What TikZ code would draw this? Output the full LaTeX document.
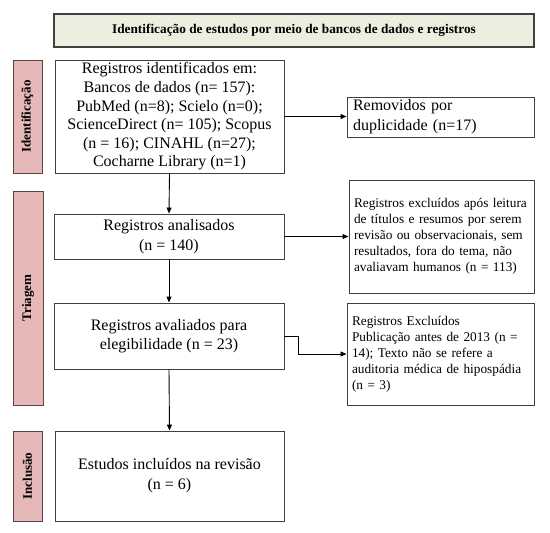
\documentclass[tikz,border=0pt]{standalone}
\usepackage{fontspec}
\setmainfont{Liberation Serif}
\usetikzlibrary{arrows.meta}
\definecolor{barpink}{HTML}{E6B8B7}
\definecolor{barline}{HTML}{5A4545}
\definecolor{titlefill}{HTML}{ECEFDF}
\definecolor{boxline}{HTML}{404040}
\tikzset{
  box/.style={draw=boxline, line width=0.9pt, fill=white, inner sep=0pt, align=center,
    font=\fontsize{16}{18.6}\selectfont},
  sidebox/.style={draw=boxline, line width=0.9pt, fill=white, inner xsep=5pt, inner ysep=0pt, align=left,
    font=\fontsize{13.3}{16}\selectfont},
  phase/.style={draw=barline, line width=0.9pt, fill=barpink, rotate=90, inner sep=0pt,
    font=\fontsize{13}{15}\selectfont\bfseries},
  titlebox/.style={draw=boxline, line width=1.8pt, fill=titlefill, inner sep=0pt,
    font=\fontsize{13.3}{16}\selectfont\bfseries},
  arr/.style={draw=black, line width=0.9pt, -{Triangle[length=6pt,width=5pt]}}
}
\begin{document}
\begin{tikzpicture}[x=1pt,y=-1pt]
\useasboundingbox (0,0) rectangle (550,533);
% title
\node[titlebox, minimum width=480pt, minimum height=33pt] (title) at (294,30.5)
  {Identificação de estudos por meio de bancos de dados e registros};
% phase bars
\node[phase, minimum width=113pt, minimum height=29pt] (pid) at (27.5,116.5) {Identificação};
\node[phase, minimum width=214pt, minimum height=30pt] (ptri) at (28,298) {Triagem};
\node[phase, minimum width=90pt, minimum height=29pt] (pinc) at (27.5,476) {Inclusão};
% main boxes
\node[box, minimum width=229pt, minimum height=113pt] (ident) at (169.5,116.5)
  {Registros identificados em:\\Bancos de dados (n= 157):\\PubMed (n=8); Scielo (n=0);\\ScienceDirect (n= 105); Scopus\\(n = 16); CINAHL (n=27);\\Cocharne Library (n=1)};
\node[box, minimum width=230pt, minimum height=45pt, font=\fontsize{16}{20}\selectfont] (anal) at (169,236.5)
  {Registros analisados\\(n = 140)};
\node[box, minimum width=230pt, minimum height=66pt, font=\fontsize{16}{19.5}\selectfont] (elig) at (169,336)
  {Registros avaliados para\\elegibilidade (n = 23)};
\node[box, minimum width=229pt, minimum height=90pt, font=\fontsize{16}{20}\selectfont] (incl) at (169.5,476)
  {Estudos incluídos na revisão\\(n = 6)};
% side boxes
\node[sidebox, minimum width=187pt, minimum height=40pt, inner xsep=6pt, text width=175pt,
  font=\fontsize{16}{20}\selectfont] (rem) at (440.5,117)
  {Removidos por\\duplicidade (n=17)};
\node[sidebox, minimum width=185pt, minimum height=113pt, text width=175pt] (ex1) at (441.5,236.5)
  {Registros excluídos após leitura\\de títulos e resumos por serem\\revisão ou observacionais, sem\\resultados, fora do tema, não\\avaliavam humanos (n = 113)};
\node[sidebox, minimum width=187pt, minimum height=102pt, text width=177pt] (ex2) at (440.5,354)
  {Registros Excluídos\\Publicação antes de 2013 (n =\\14); Texto não se refere a\\auditoria médica de hipospádia\\(n = 3)};
% connectors
\draw[arr] (ident.south) -- (anal.north);
\draw[arr] (anal.south) -- (elig.north);
\draw[arr] (elig.south) -- (incl.north);
\draw[arr] (ident.east) -- (ident.east -| rem.west);
\draw[arr] (anal.east) -- (anal.east -| ex1.west);
\draw[arr] (elig.east) -- ++(14,0) |- (ex2.west);
\end{tikzpicture}
\end{document}
